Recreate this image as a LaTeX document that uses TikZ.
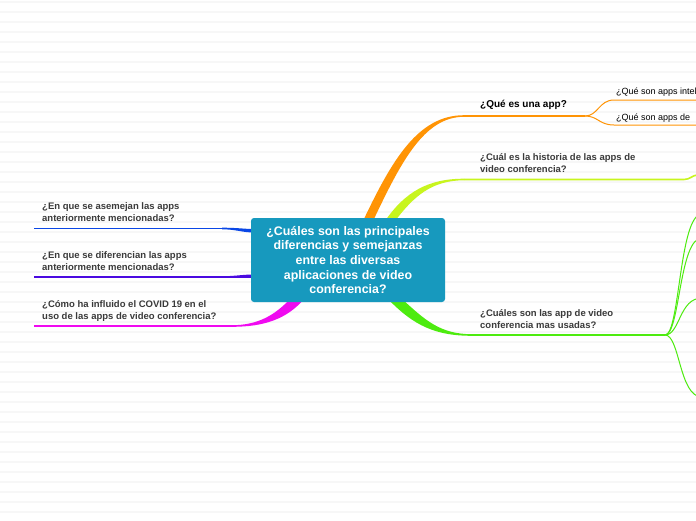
\documentclass[tikz,border=0pt]{standalone}
\usepackage{fontspec}
\setmainfont{Liberation Sans}
\usetikzlibrary{positioning,calc}
\definecolor{hubTeal}{HTML}{1799BE}
\definecolor{appOrange}{HTML}{FF9405}
\definecolor{histLime}{HTML}{C8F51E}
\definecolor{usedGreen}{HTML}{4DEB0F}
\definecolor{sameBlue}{HTML}{0A47E6}
\definecolor{diffViolet}{HTML}{4A0AE0}
\definecolor{covidMagenta}{HTML}{F00AF0}
\definecolor{ruleGray}{HTML}{F7F7F7}
\definecolor{labelInk}{HTML}{3A3A3A}

\tikzset{
  hubbox/.style={fill=hubTeal, rounded corners=3pt, text=white, align=center,
    font=\bfseries\fontsize{12.4}{14.6}\selectfont, minimum width=194pt, minimum height=84pt},
  branchlabel/.style={font=\bfseries\fontsize{9.5}{12}\selectfont, text=labelInk,
    align=left, inner sep=0pt, anchor=base west},
  leaflabel/.style={font=\fontsize{9}{10}\selectfont, text=black, inner sep=0pt, anchor=base west},
  twig/.style={line width=1pt}
}

\begin{document}
\begin{tikzpicture}[x=1pt, y=-1pt]
  \useasboundingbox[fill=white] (0,0) rectangle (696,520);
  % ruled background
  \foreach \y in {2,12,...,512} { \draw[ruleGray, line width=1.2pt] (0,\y) -- (696,\y); }

  \coordinate (hubc) at (348,260);
  \coordinate (app-a) at (464,116);
  \coordinate (app-b) at (585,116);
  \coordinate (app-up) at (614,100);
  \coordinate (app-dn) at (614,125);
  \coordinate (hist-a) at (464,179.5);
  \coordinate (hist-b) at (684,179.5);
  \coordinate (hist-c) at (697,175);
  \coordinate (used-a) at (472,335);
  \coordinate (used-b) at (665,335);
  \coordinate (same-a) at (222,228.5);
  \coordinate (same-b) at (34,228.5);
  \coordinate (diff-a) at (222,277);
  \coordinate (diff-b) at (34,277);
  \coordinate (covid-a) at (232,326);
  \coordinate (covid-b) at (34,326);

  % thick branches out of the hub
  \fill[appOrange] (363,221) .. controls (392,160) and (418,115.2) .. ($(app-a)+(0,-0.8)$)
    -- ($(app-a)+(0,0.8)$) .. controls (424,116.8) and (401,162) .. (373,221) -- cycle;
  \fill[histLime] (385,221) .. controls (405,192) and (428,178.7) .. ($(hist-a)+(0,-0.8)$)
    -- ($(hist-a)+(0,0.8)$) .. controls (432,180.3) and (414,196) .. (395,221) -- cycle;
  \fill[usedGreen] (402,299) .. controls (425,320) and (440,334.2) .. ($(used-a)+(0,-0.8)$)
    -- ($(used-a)+(0,0.8)$) .. controls (436,335.8) and (414,326) .. (388,299) -- cycle;
  \fill[covidMagenta] (290,299) .. controls (275,315) and (258,325.2) .. ($(covid-a)+(0,-0.8)$)
    -- ($(covid-a)+(0,0.8)$) .. controls (264,326.8) and (287,319) .. (304,299) -- cycle;
  \fill[sameBlue] ($(same-a)+(0,-0.8)$) .. controls (238,227.7) and (244,229) .. (254,229)
    -- (254,232.5) .. controls (242,232.5) and (236,229.3) .. ($(same-a)+(0,0.8)$) -- cycle;
  \fill[diffViolet] ($(diff-a)+(0,-0.8)$) .. controls (236,276.2) and (242,274.5) .. (254,274.5)
    -- (254,277.8) .. controls (242,277.8) and (236,277.8) .. ($(diff-a)+(0,0.8)$) -- cycle;

  % underlines
  \draw[appOrange, line width=1.6pt] (app-a) -- (app-b);
  \draw[histLime, line width=1.6pt] (hist-a) -- (hist-b) .. controls (690,179.5) and (692,175.5) .. (hist-c);
  \draw[usedGreen, line width=1.6pt] (used-a) -- (used-b);
  \draw[sameBlue, line width=1.6pt] (same-b) -- (same-a);
  \draw[diffViolet, line width=1.6pt] (diff-b) -- (diff-a);
  \draw[covidMagenta, line width=1.6pt] (covid-b) -- (covid-a);

  % small branches
  \draw[appOrange, twig] (app-b) .. controls (598,116) and (599,100) .. (app-up) -- ++(90,0);
  \draw[appOrange, twig] (app-b) .. controls (598,116) and (599,125) .. (app-dn) -- ++(90,0);
  \foreach \n/\y in {1/214,2/238,3/298,4/397} {
    \coordinate (used-\n) at (702,\y);
    \draw[usedGreen, twig] (used-b) .. controls (680,335) and (679,\y) .. (used-\n);
  }

  \node[hubbox] (hub) at (hubc) {¿Cuáles son las principales\\diferencias y semejanzas\\entre las diversas\\aplicaciones de video\\conferencia?};

  \node[branchlabel, text=black, font=\bfseries\fontsize{10}{12}\selectfont] (app) at (480,107) {¿Qué es una app?};
  \node[leaflabel] (app-1) at (616,94) {¿Qué son apps intel};
  \node[leaflabel] (app-2) at (616,120) {¿Qué son apps de};
  \node[branchlabel] (hist) at (480,172) {¿Cuál es la historia de las apps de\\video conferencia?};
  \node[branchlabel] (used) at (480,328) {¿Cuáles son las app de video\\conferencia mas usadas?};
  \node[branchlabel] (same) at (42,221) {¿En que se asemejan las apps\\anteriormente mencionadas?};
  \node[branchlabel] (diff) at (42,270) {¿En que se diferencian las apps\\anteriormente mencionadas?};
  \node[branchlabel] (covid) at (42,319) {¿Cómo ha influido el COVID 19 en el\\uso de las apps de video conferencia?};
\end{tikzpicture}
\end{document}
